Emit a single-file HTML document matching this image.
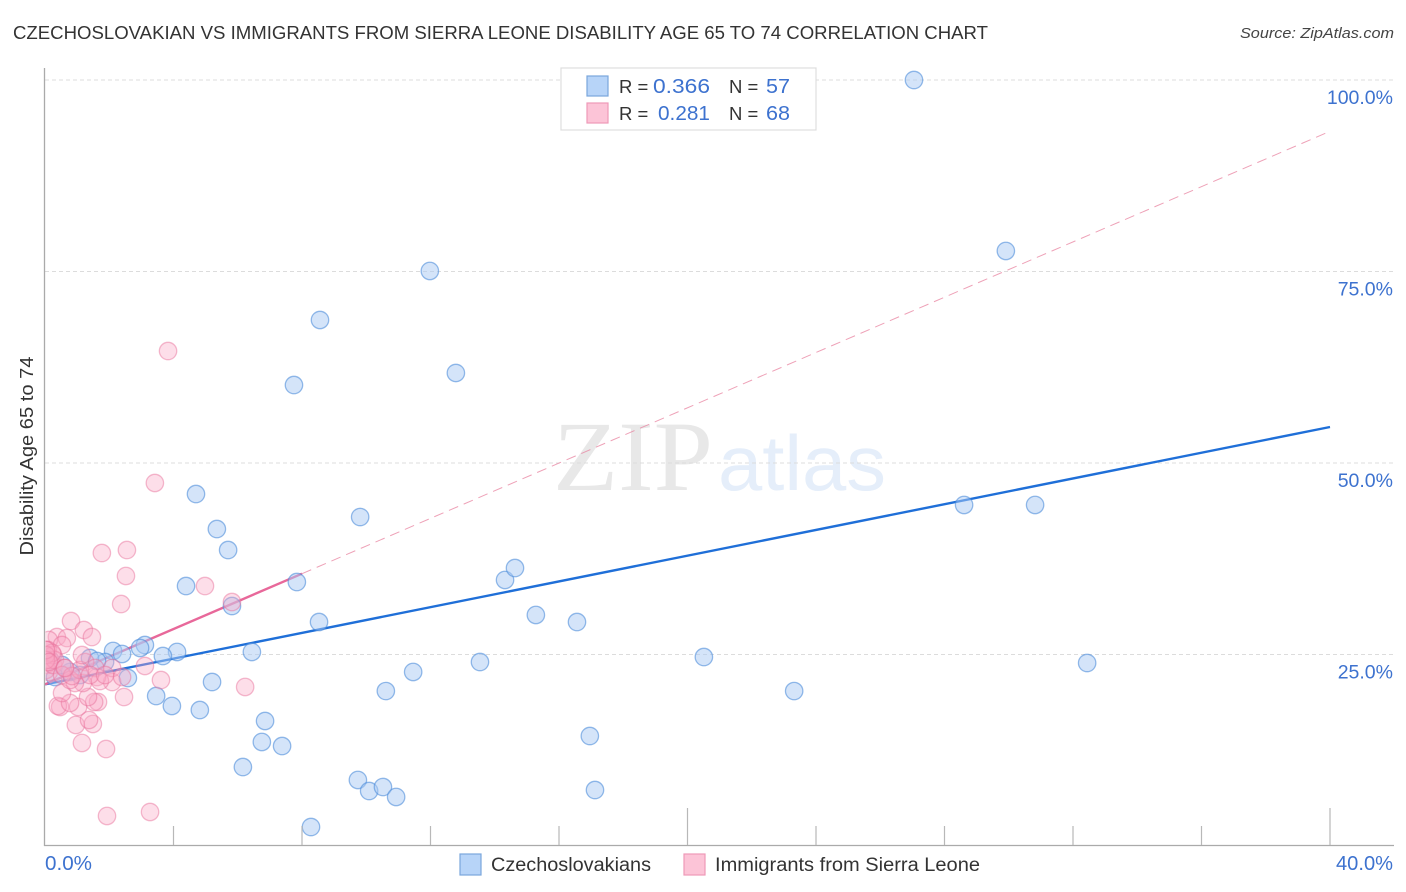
<!DOCTYPE html>
<html lang="en">
<head>
<meta charset="utf-8">
<title>Czechoslovakian vs Immigrants from Sierra Leone Disability Age 65 to 74 Correlation Chart</title>
<style>
html,body{margin:0;padding:0;background:#fff;width:1406px;height:892px;overflow:hidden}
svg{display:block;font-family:"Liberation Sans",sans-serif}
</style>
</head>
<body>
<svg id="chart" xmlns="http://www.w3.org/2000/svg" width="1406" height="892" viewBox="0 0 1406 892">
  <defs>
    <clipPath id="plotClip"><rect x="45.5" y="60" width="1350" height="786"/></clipPath>
  </defs>
  <text x="13" y="39" font-size="18.5" fill="#333" textLength="975" lengthAdjust="spacingAndGlyphs">CZECHOSLOVAKIAN VS IMMIGRANTS FROM SIERRA LEONE DISABILITY AGE 65 TO 74 CORRELATION CHART</text>
  <text x="1394" y="38" font-size="15" font-style="italic" fill="#444" text-anchor="end" textLength="154" lengthAdjust="spacingAndGlyphs">Source: ZipAtlas.com</text>

  <g>
    <text x="553" y="490" font-family="'Liberation Serif',serif" font-size="100" fill="#e8e8e8" textLength="160" lengthAdjust="spacingAndGlyphs">ZIP</text>
    <text x="718" y="490" font-size="78" fill="#e5eefa" textLength="168" lengthAdjust="spacingAndGlyphs">atlas</text>
  </g>

  <g id="grid"></g>
  <g id="trends"></g>
  <g id="bluePts" clip-path="url(#plotClip)"></g>
  <g id="pinkPts" clip-path="url(#plotClip)"></g>
  <g id="axes"></g>

  <g>
    <rect x="561" y="68" width="255" height="62" fill="#fff" stroke="#dedede" stroke-width="1.2"/>
    <rect x="587" y="76" width="21" height="20" fill="#b7d4f8" stroke="#7aa6dc" stroke-width="1.2"/>
    <rect x="587" y="103" width="21" height="20" fill="#fcc4d7" stroke="#ee9ab8" stroke-width="1.2"/>
    <text x="619" y="93" font-size="18.5" fill="#333">R =</text>
    <text x="653" y="93" font-size="20.5" fill="#3d72cf" textLength="57" lengthAdjust="spacingAndGlyphs">0.366</text>
    <text x="729" y="93" font-size="18.5" fill="#333">N =</text>
    <text x="766" y="93" font-size="20.5" fill="#3d72cf" textLength="24" lengthAdjust="spacingAndGlyphs">57</text>
    <text x="619" y="120" font-size="18.5" fill="#333">R =</text>
    <text x="658" y="120" font-size="20.5" fill="#3d72cf" textLength="52" lengthAdjust="spacingAndGlyphs">0.281</text>
    <text x="729" y="120" font-size="18.5" fill="#333">N =</text>
    <text x="766" y="120" font-size="20.5" fill="#3d72cf" textLength="24" lengthAdjust="spacingAndGlyphs">68</text>
  </g>

  <text transform="translate(33,456) rotate(-90)" font-size="18.5" fill="#333" text-anchor="middle" textLength="199" lengthAdjust="spacingAndGlyphs">Disability Age 65 to 74</text>

  <g>
    <g>
      <rect x="460" y="854" width="21" height="21" fill="#b7d4f8" stroke="#7aa6dc" stroke-width="1.2"/>
      <text x="491" y="871" font-size="19" fill="#333" textLength="160" lengthAdjust="spacingAndGlyphs">Czechoslovakians</text>
    </g>
    <g>
      <rect x="684" y="854" width="21" height="21" fill="#fcc4d7" stroke="#ee9ab8" stroke-width="1.2"/>
      <text x="715" y="871" font-size="19" fill="#333" textLength="265" lengthAdjust="spacingAndGlyphs">Immigrants from Sierra Leone</text>
    </g>
  </g>
</svg>

<script>
// Chart values, in percent
const blueX = [27.05,29.91,11.98,8.56,7.75,12.79,4.70,5.35,5.70,9.81,28.61,30.82,4.39,7.84,5.82,14.32,14.63,15.28,16.56,8.53,6.44,4.11,3.67,3.11,2.96,2.12,2.40,1.87,1.40,1.62,2.58,13.54,11.46,10.61,20.51,23.32,32.44,5.20,3.46,3.95,4.82,6.85,6.75,7.38,6.16,9.74,10.09,10.52,10.93,16.96,17.12,8.28,0.31,0.78,1.09,0.16,0.53];
const blueY = [100,77.68,75.07,68.67,60.18,61.75,45.95,41.38,38.64,42.95,44.52,44.52,33.94,34.46,31.33,34.73,36.29,30.16,29.24,29.24,25.33,25.33,24.80,26.24,25.85,25.46,25.07,24.02,24.54,24.15,21.93,24.02,22.72,20.23,24.67,20.23,23.89,21.41,19.58,18.28,17.75,16.32,13.58,13.05,10.31,8.62,7.18,7.70,6.40,14.36,7.31,2.48,22.06,22.72,22.32,24.28,23.63];
const pinkX = [3.83,3.42,2.55,1.77,2.52,4.98,2.37,5.82,0.81,1.21,1.46,0.37,0.68,0.12,0.53,3.11,3.61,6.23,2.46,2.09,1.15,1.90,1.93,3.27,0.96,1.49,1.37,0.47,0.40,1.65,1.53,1.03,0.78,0.53,1.34,1.62,1.18,0.93,0.03,0.03,0.03,0.06,0.03,0.12,0.16,0.25,0.09,0.25,0.31,0.62,0.78,0.53,0.22,1.25,1.56,1.09,1.71,2.09,1.40,2.40,1.15,1.87,0.84,0.03,0.03,0.03,0.12,0.62];
const pinkY = [64.62,47.39,38.64,38.25,35.25,33.94,31.59,31.85,29.37,28.20,27.28,27.28,27.15,26.89,26.24,23.50,21.67,20.76,19.45,21.41,13.45,12.66,3.92,4.44,15.80,15.93,16.45,18.15,18.28,18.80,18.80,18.15,18.67,19.97,19.45,22.06,21.28,21.28,24.93,25.59,23.63,24.28,22.98,22.72,24.28,23.63,25.59,24.93,24.28,23.24,21.67,22.32,25.20,24.02,23.24,22.98,21.54,23.24,22.32,22.06,24.93,22.32,22.19,24.93,24.28,25.59,24.02,23.24];
const blueTrendX = [0, 40];
const blueTrendY = [21.1, 54.7];
const pinkSolidX = [0, 8];
const pinkSolidY = [21.1, 35.55];
const pinkDashX = [8, 40];
const pinkDashY = [35.55, 93.3];
const yTicks = [25, 50, 75, 100];
const yTickLabels = ["25.0%", "50.0%", "75.0%", "100.0%"];
const xTicks = [4, 8, 12, 16, 20, 24, 28, 32, 36, 40];
const xMajorTicks = [20, 40];
const xEndValues = [0, 40];
const xEndLabels = ["0.0%", "40.0%"];

const SVGNS = "http://www.w3.org/2000/svg";
const sx = v => 45 + v * 32.125;
const sy = v => 846 - v * 7.66;
const byId = id => document.getElementById(id);
function make(tag, props, parent) {
  const el = document.createElementNS(SVGNS, tag);
  for (const k in props) el.setAttribute(k, props[k]);
  parent.appendChild(el);
  return el;
}

// Gridlines and y tick labels
yTicks.forEach((t, i) => {
  const g = make("line", {x1: 45, x2: 1393, y1: sy(t), y2: sy(t), stroke: "#dcdcdc", "stroke-width": 1, "stroke-dasharray": "4 3"}, byId("grid"));
  
  
  const l = make("text", {x: 1393, y: sy(t) + 24, "font-size": 19.5, fill: "#3d72cf", "text-anchor": "end"}, byId("axes"));
  
  
  l.textContent = yTickLabels[i];
});

// Trend lines
const pinkDash = make("line", {x1: sx(pinkDashX[0]), y1: sy(pinkDashY[0]), x2: sx(pinkDashX[1]), y2: sy(pinkDashY[1]), stroke: "#e8829f", "stroke-width": 1, "stroke-opacity": 0.75, "stroke-dasharray": "10 6"}, byId("trends"));


const blueTrend = make("line", {x1: sx(blueTrendX[0]), y1: sy(blueTrendY[0]), x2: sx(blueTrendX[1]), y2: sy(blueTrendY[1]), stroke: "#1f6fd8", "stroke-width": 2.4}, byId("trends"));


const pinkSolid = make("line", {x1: sx(pinkSolidX[0]), y1: sy(pinkSolidY[0]), x2: sx(pinkSolidX[1]), y2: sy(pinkSolidY[1]), stroke: "#e8689a", "stroke-width": 2.4}, byId("trends"));



// Points
blueX.forEach((v, i) => {
  const c = make("circle", {cx: sx(v), cy: sy(blueY[i]), r: 8.7, fill: "#a9caf3", "fill-opacity": 0.5, stroke: "#4f8ddb", "stroke-opacity": 0.6, "stroke-width": 1.3}, byId("bluePts"));
  
  
});
pinkX.forEach((v, i) => {
  const c = make("circle", {cx: sx(v), cy: sy(pinkY[i]), r: 8.7, fill: "#f9a8c4", "fill-opacity": 0.38, stroke: "#e8709b", "stroke-opacity": 0.48, "stroke-width": 1.3}, byId("pinkPts"));
  
  
});

// Axes
const yAxis = make("line", {x1: 44.5, x2: 44.5, y1: 68, y2: 846, stroke: "#aaaaaa", "stroke-width": 1.3}, byId("axes"));


const xAxis = make("line", {x1: 44, x2: 1394, y1: 845.5, y2: 845.5, stroke: "#aaaaaa", "stroke-width": 1.3}, byId("axes"));


xTicks.forEach(t => {
  const top = xMajorTicks.includes(t) ? 808 : 826;
  const k = make("line", {x1: sx(t), x2: sx(t), y1: top, y2: 845, stroke: "#b8b8b8", "stroke-width": 1.2}, byId("axes"));
  
  
});
xEndValues.forEach((t, i) => {
  const props = i === 0
    ? {x: sx(t), y: 870, "font-size": 20, fill: "#3d72cf", textLength: 47, lengthAdjust: "spacingAndGlyphs"}
    : {x: 1336, y: 870, "font-size": 20, fill: "#3d72cf", textLength: 57, lengthAdjust: "spacingAndGlyphs"};
  const l = make("text", props, byId("axes"));
  
  
  l.textContent = xEndLabels[i];
});
</script>
</body>
</html>
